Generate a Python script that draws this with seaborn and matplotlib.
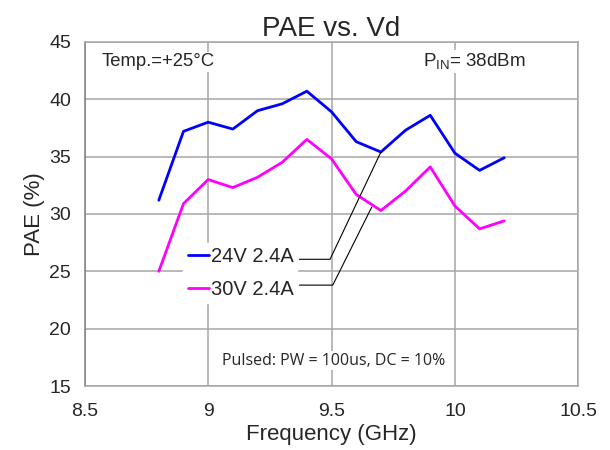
import numpy as np
import pandas as pd
import matplotlib
matplotlib.use("Agg")
import matplotlib.pyplot as plt
import seaborn as sns

# ── Data ──────────────────────────────────────────────────────────────────────
freq_ghz = [8.8, 8.9, 9.0, 9.1, 9.2, 9.3, 9.4, 9.5, 9.6, 9.7, 9.8, 9.9, 10.0, 10.1, 10.2]
pae_24v = [31.2, 37.2, 38.0, 37.4, 39.0, 39.6, 40.7, 38.9, 36.3, 35.4, 37.3, 38.6, 35.3, 33.8, 34.9]
pae_30v = [25.0, 30.9, 33.0, 32.3, 33.2, 34.5, 36.5, 34.8, 31.7, 30.3, 32.0, 34.1, 30.7, 28.7, 29.4]
series_names = ["24V 2.4A", "30V 2.4A"]
series_colors = ["#0000FF", "#FF00FF"]

x_ticks = [8.5, 9, 9.5, 10, 10.5]
y_ticks = [15, 20, 25, 30, 35, 40, 45]

df = pd.DataFrame({
    "freq": freq_ghz * 2,
    "pae": pae_24v + pae_30v,
    "bias": [series_names[0]] * len(freq_ghz) + [series_names[1]] * len(freq_ghz),
})

# ── Plot ──────────────────────────────────────────────────────────────────────
sns.set_style("white")
plt.rcParams['font.family'] = ['Liberation Sans', 'DejaVu Sans']

fig = plt.figure(figsize=(6.1, 4.5), dpi=100)
ax = fig.add_axes([0.139, 0.142, 0.809, 0.765])

sns.lineplot(data=df, x="freq", y="pae", hue="bias",
             palette=dict(zip(series_names, series_colors)),
             linewidth=2, ax=ax, zorder=3)

ax.set_xlim(8.5, 10.5)
ax.set_ylim(15, 45)
ax.set_xticks(x_ticks)
ax.set_xticklabels([f"{t:g}" for t in x_ticks])
ax.set_yticks(y_ticks)
ax.tick_params(labelsize=14, length=0, pad=12)
ax.tick_params(axis="y", pad=10)
ax.grid(True, color="#A6A6A6", linewidth=1.1, zorder=0)
ax.set_axisbelow(True)
for s in ax.spines.values():
    s.set_color("#A6A6A6")
    s.set_linewidth(1.1)
ax.spines["left"].set_color("#808080")

ax.set_xlabel("Frequency (GHz)", fontsize=16, labelpad=3)
ax.set_ylabel("PAE (%)", fontsize=16, labelpad=3)
ax.set_title("PAE vs. Vd", fontsize=20, pad=4)

leg = ax.legend(loc="center left", bbox_to_anchor=(0.2, 0.328), fontsize=14.5,
                frameon=True, handlelength=1.05, handletextpad=0.1,
                labelspacing=0.7, borderpad=0.2, borderaxespad=0)
leg.get_frame().set_edgecolor("white")
leg.get_frame().set_facecolor("white")
leg.get_frame().set_alpha(1)
leg.get_frame().set_boxstyle("square", pad=0)
leg.set_zorder(4)

# leader lines from legend labels to the curves
ax.plot([9.37, 9.494, 9.7], [26.05, 26.05, 35.4], color="black", lw=0.8, zorder=5)
ax.plot([9.37, 9.505, 9.663], [23.8, 23.8, 30.6], color="black", lw=0.8, zorder=5)

box = dict(facecolor="white", edgecolor="none", pad=1)
ax.text(0.034, 0.942, "Temp.=+25°C", transform=ax.transAxes, fontsize=13.3,
        va="center", ha="left", bbox=box, zorder=4)
ax.text(0.686, 0.942, r"P$_{\mathregular{IN}}$= 38dBm", transform=ax.transAxes,
        fontsize=13.5, va="center", ha="left", bbox=box, zorder=4)
ax.text(0.278, 0.074, "Pulsed: PW = 100us, DC = 10%", transform=ax.transAxes,
        fontsize=11.5, va="center", ha="left", bbox=box, zorder=4,
        family=['Open Sans', 'DejaVu Sans'])

fig.savefig("out.png", dpi=100)
